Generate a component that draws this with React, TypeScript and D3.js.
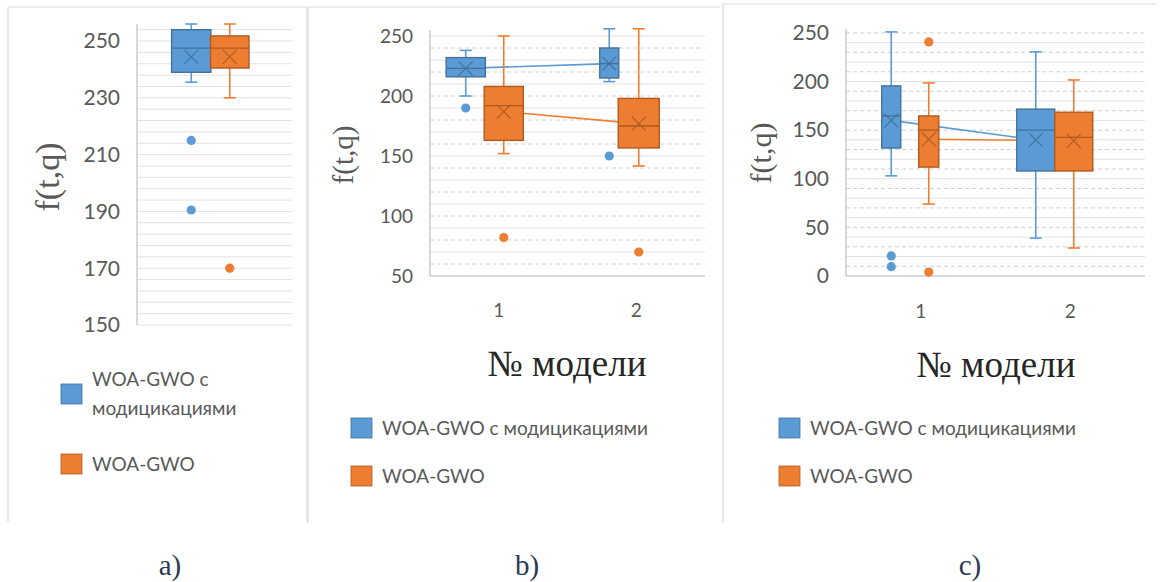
import * as d3 from "d3";

// series names (legend)
const seriesNames = ["WOA-GWO с модицикациями", "WOA-GWO"];
const seriesFill = ["#5B9BD5", "#ED7D31"];
const seriesDark = ["#41719C", "#AE5A21"];

// box stats per category: [low whisker, q1, median, q3, high whisker]
// panel a)
const catsA = ["1"];
const ticksA = [150, 170, 190, 210, 230, 250];
const aModBox = [[235.5, 239, 247.5, 254, 256]];
const aModMean = [244.4];
const aModOut = [[215, 190.5]];
const aBaseBox = [[230, 240.5, 247.5, 251.8, 256]];
const aBaseMean = [244.4];
const aBaseOut = [[170]];

// panel b)
const catsB = ["1", "2"];
const ticksB = [50, 100, 150, 200, 250];
const bModBox = [[200, 216, 223, 232, 238], [212, 215, 227, 240, 256]];
const bModMean = [223, 227];
const bModOut = [[190], [150]];
const bBaseBox = [[152, 163, 192, 208, 250], [141.7, 156.7, 175, 198, 256]];
const bBaseMean = [187, 177];
const bBaseOut = [[82], [70]];

// panel c)
const catsC = ["1", "2"];
const ticksC = [0, 50, 100, 150, 200, 250];
const cModBox = [[103, 131.6, 164.6, 195.5, 251], [39, 108, 150, 171.6, 230.5]];
const cModMean = [160, 140];
const cModOut = [[20.6, 9.6], []];
const cBaseBox = [[74, 112, 150, 164.6, 198.5], [28.8, 108, 142.6, 168.4, 201.6]];
const cBaseMean = [140.6, 139];
const cBaseOut = [[240.7, 4], []];

const sans = "Lato, 'Open Sans', sans-serif";
const serif = "'Liberation Serif', 'DejaVu Serif', serif";

type Series = { box: number[][]; mean: number[]; out: number[][] };

type Cfg = {
  cats: string[];
  ticks: number[];
  domain: [number, number];
  yRange: [number, number];
  xRange: [number, number];
  gridStep: number;
  gridDash: boolean;
  series: Series[];
  offset: number;
  slot: number;
  widths: number[][];
  nudge: number[][];
  tickSize: number;
  yTitle: { x: number; y: number; size: number };
  xTitle?: { x: number; y: number };
  catY?: number;
  meanLines: boolean;
  xAxis: boolean;
  frame: [number, number, number, number][];
  legend: { x: number; y1: number; y2: number; wrap: boolean };
  tag: { text: string; x: number };
};

function Panel({ cfg }: { cfg: Cfg }) {
  const y = d3.scaleLinear().domain(cfg.domain).range(cfg.yRange);
  const x = d3.scaleBand<string>().domain(cfg.cats).range(cfg.xRange).padding(0);
  const inner = d3.scaleBand<number>().domain([0, 1]).range([-cfg.slot, cfg.slot]);
  const [x0, x1] = cfg.xRange;
  const grid = d3.range(cfg.domain[0], cfg.domain[1] + 0.001, cfg.gridStep);
  const cx = (si: number, ci: number) =>
    (x(cfg.cats[ci]) as number) +
    x.bandwidth() / 2 +
    cfg.offset +
    (inner(si) as number) +
    inner.bandwidth() / 2 +
    cfg.nudge[si][ci];
  const cap = 6;
  const mk = 7;

  return (
    <g>
      {cfg.frame.map((f, i) => (
        <line key={"f" + i} x1={f[0]} y1={f[1]} x2={f[2]} y2={f[3]} stroke="#d9d9d9" strokeWidth={1.2} />
      ))}
      {grid.map((g, i) => (
        <line
          key={"g" + i}
          x1={x0}
          x2={x1}
          y1={y(g)}
          y2={y(g)}
          stroke={cfg.gridDash && i % 2 === 1 ? "#d0d0d0" : "#e2e2e2"}
          strokeWidth={1}
          strokeDasharray={cfg.gridDash && i % 2 === 1 ? "4 3" : undefined}
        />
      ))}
      <line x1={x0} x2={x0} y1={cfg.yRange[0]} y2={y(cfg.domain[1])} stroke="#bfbfbf" strokeWidth={1.2} />
      {cfg.xAxis && (
        <line x1={x0} x2={x1} y1={cfg.yRange[0]} y2={cfg.yRange[0]} stroke="#bfbfbf" strokeWidth={1.2} />
      )}
      {cfg.ticks.map((t) => (
        <text
          key={"t" + t}
          x={x0 - 17}
          y={y(t)}
          dy="0.35em"
          textAnchor="end"
          fontFamily={sans}
          fontSize={cfg.tickSize}
          fill="#595959"
        >
          {t}
        </text>
      ))}
      {cfg.catY !== undefined &&
        cfg.cats.map((c) => (
          <text
            key={"c" + c}
            x={(x(c) as number) + x.bandwidth() / 2}
            y={cfg.catY}
            textAnchor="middle"
            fontFamily={sans}
            fontSize={19}
            fill="#595959"
          >
            {c}
          </text>
        ))}
      {/* mean lines */}
      {cfg.meanLines &&
        cfg.series.map((s, si) => (
          <path
            key={"m" + si}
            d={d3.line<number>().x((_, ci) => cx(si, ci)).y((v) => y(v))(s.mean) || ""}
            stroke={seriesFill[si]}
            strokeWidth={1.6}
            fill="none"
          />
        ))}
      {cfg.series.map((s, si) =>
        s.box.map((b, ci) => {
          const c = cx(si, ci);
          const w = inner.bandwidth() * cfg.widths[si][ci];
          const [lo, q1, med, q3, hi] = b;
          const my = y(s.mean[ci]);
          return (
            <g key={"b" + si + ci}>
              <line x1={c} x2={c} y1={y(hi)} y2={y(q3)} stroke={seriesFill[si]} strokeWidth={1.6} />
              <line x1={c} x2={c} y1={y(q1)} y2={y(lo)} stroke={seriesFill[si]} strokeWidth={1.6} />
              <line x1={c - cap} x2={c + cap} y1={y(hi)} y2={y(hi)} stroke={seriesFill[si]} strokeWidth={1.6} />
              <line x1={c - cap} x2={c + cap} y1={y(lo)} y2={y(lo)} stroke={seriesFill[si]} strokeWidth={1.6} />
              <rect
                x={c - w / 2}
                y={y(q3)}
                width={w}
                height={y(q1) - y(q3)}
                fill={seriesFill[si]}
                stroke={seriesDark[si]}
                strokeWidth={1.4}
              />
              <line x1={c - w / 2} x2={c + w / 2} y1={y(med)} y2={y(med)} stroke={seriesDark[si]} strokeWidth={1.4} />
              <path
                d={`M${c - mk},${my - mk}L${c + mk},${my + mk}M${c - mk},${my + mk}L${c + mk},${my - mk}`}
                stroke={seriesDark[si]}
                strokeWidth={1.1}
                fill="none"
              />
              {s.out[ci].map((o, oi) => (
                <circle key={oi} cx={c} cy={y(o)} r={4.6} fill={seriesFill[si]} />
              ))}
            </g>
          );
        })
      )}
      <text
        transform={`translate(${cfg.yTitle.x},${cfg.yTitle.y}) rotate(-90)`}
        textAnchor="middle"
        dy="0.35em"
        fontFamily={serif}
        fontSize={cfg.yTitle.size}
        fill="#595959"
      >
        f(t,q)
      </text>
      {cfg.xTitle && (
        <text x={cfg.xTitle.x} y={cfg.xTitle.y} textAnchor="middle" fontFamily={serif} fontSize={37} fill="#262626">
          № модели
        </text>
      )}
      {/* legend */}
      {seriesNames.map((n, si) => {
        const ly = si === 0 ? cfg.legend.y1 : cfg.legend.y2;
        const lines = cfg.legend.wrap && si === 0 ? ["WOA-GWO с", "модицикациями"] : [n];
        return (
          <g key={"l" + si}>
            <rect
              x={cfg.legend.x}
              y={ly - 10}
              width={21}
              height={20}
              fill={seriesFill[si]}
              stroke={seriesDark[si]}
              strokeWidth={0.8}
            />
            {lines.map((t, li) => (
              <text
                key={li}
                x={cfg.legend.x + 31}
                y={ly + (lines.length > 1 ? (li - 0.5) * 29 : 0)}
                dy="0.35em"
                fontFamily={sans}
                fontSize={19}
                fill="#595959"
              >
                {t}
              </text>
            ))}
          </g>
        );
      })}
      <text x={cfg.tag.x} y={575} textAnchor="middle" fontFamily={serif} fontSize={29} fill="#2b3a55">
        {cfg.tag.text}
      </text>
    </g>
  );
}

const panelA: Cfg = {
  cats: catsA,
  ticks: ticksA,
  domain: [150, 256],
  yRange: [325, 24],
  xRange: [137, 292],
  gridStep: 4,
  gridDash: false,
  series: [
    { box: aModBox, mean: aModMean, out: aModOut },
    { box: aBaseBox, mean: aBaseMean, out: aBaseOut },
  ],
  offset: -4,
  slot: 38.5,
  widths: [[1.02], [1.0]],
  nudge: [[0], [0]],
  tickSize: 21,
  yTitle: { x: 47, y: 177, size: 34 },
  meanLines: false,
  xAxis: false,
  frame: [
    [8, 7, 307, 7],
    [8, 7, 8, 522],
    [307, 7, 307, 522],
  ],
  legend: { x: 61, y1: 394, y2: 464, wrap: true },
  tag: { text: "a)", x: 170 },
};

const panelB: Cfg = {
  cats: catsB,
  ticks: ticksB,
  domain: [50, 255],
  yRange: [276, 30],
  xRange: [430, 705],
  gridStep: 10,
  gridDash: true,
  series: [
    { box: bModBox, mean: bModMean, out: bModOut },
    { box: bBaseBox, mean: bBaseMean, out: bBaseOut },
  ],
  offset: -14,
  slot: 38,
  widths: [
    [1.03, 0.5],
    [1.03, 1.08],
  ],
  nudge: [
    [0, 6],
    [0, -2.5],
  ],
  tickSize: 19,
  yTitle: { x: 343, y: 155, size: 29 },
  xTitle: { x: 567, y: 376 },
  catY: 317,
  meanLines: true,
  xAxis: true,
  frame: [
    [308, 7, 720, 7],
    [308, 7, 308, 523],
  ],
  legend: { x: 351, y1: 428, y2: 476, wrap: false },
  tag: { text: "b)", x: 527 },
};

const panelC: Cfg = {
  cats: catsC,
  ticks: ticksC,
  domain: [0, 254],
  yRange: [276, 29],
  xRange: [846, 1145],
  gridStep: 10,
  gridDash: true,
  series: [
    { box: cModBox, mean: cModMean, out: cModOut },
    { box: cBaseBox, mean: cBaseMean, out: cBaseOut },
  ],
  offset: -13,
  slot: 38,
  widths: [
    [0.5, 1.0],
    [0.53, 1.0],
  ],
  nudge: [
    [2.5, -2.5],
    [2, -2.5],
  ],
  tickSize: 21,
  yTitle: { x: 760, y: 153, size: 30 },
  xTitle: { x: 996, y: 377 },
  catY: 318,
  meanLines: true,
  xAxis: true,
  frame: [
    [723, 4, 1156, 4],
    [723, 4, 723, 523],
  ],
  legend: { x: 779, y1: 428, y2: 476, wrap: false },
  tag: { text: "c)", x: 970 },
};

export default function App() {
  return (
    <svg
      width={1160}
      height={582}
      style={{ position: "absolute", left: 0, top: 0, background: "#fff" }}
    >
      <rect width={1160} height={582} fill="#fff" />
      <Panel cfg={panelA} />
      <Panel cfg={panelB} />
      <Panel cfg={panelC} />
    </svg>
  );
}
